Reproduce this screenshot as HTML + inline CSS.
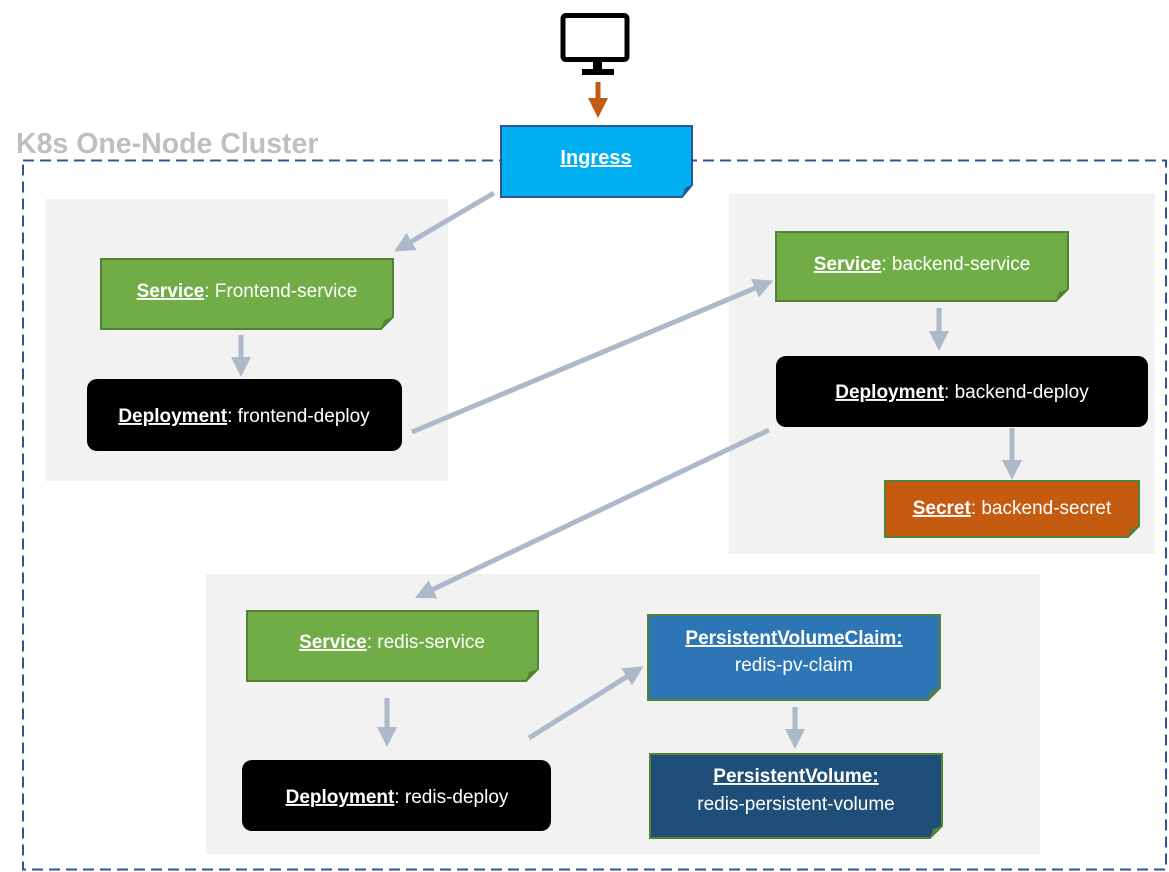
<!DOCTYPE html>
<html><head><meta charset="utf-8"><style>
html,body{margin:0;padding:0;background:#fff;}
svg{display:block;font-family:"Liberation Sans",sans-serif;}
</style></head><body>
<svg width="1169" height="872" viewBox="0 0 1169 872" xmlns="http://www.w3.org/2000/svg">
<defs>
<marker id="ah" markerWidth="4" markerHeight="4" refX="2.2" refY="2" orient="auto" markerUnits="strokeWidth">
<path d="M0,0 L4,2 L0,4 z" fill="#adb9ca"/></marker>
<marker id="ao" markerWidth="4" markerHeight="4" refX="2.2" refY="2" orient="auto" markerUnits="strokeWidth">
<path d="M0,0 L4,2 L0,4 z" fill="#c55a11"/></marker>
</defs>
<rect x="563" y="15.5" width="64" height="44" rx="3" fill="#fff" stroke="#000" stroke-width="5"/>
<rect x="593" y="62" width="9" height="7" fill="#000"/>
<rect x="582" y="69" width="32" height="6" fill="#000"/>
<line x1="598" y1="82" x2="598" y2="109" stroke="#c55a11" stroke-width="5" marker-end="url(#ao)"/>
<text x="16" y="153" font-size="28.5" font-weight="bold" fill="#bfbfbf">K8s One-Node Cluster</text>
<rect x="23" y="160.5" width="1143" height="709" fill="none" stroke="#2f5597" stroke-width="2" stroke-dasharray="11,6"/>
<rect x="45" y="199" width="403" height="282" fill="#f2f2f2"/>
<rect x="729" y="194" width="426" height="360" fill="#f2f2f2"/>
<rect x="206" y="574" width="834" height="280" fill="#f2f2f2"/>
<polygon points="501,126 692,126 692,185 682,197 501,197" fill="#00b0f0" stroke="#2f5597" stroke-width="2"/>
<polygon points="692,185 682,197 685,188" fill="#2f5597"/>
<text x="596" y="164" font-size="20" font-weight="bold" fill="#fff" text-anchor="middle" text-decoration="underline">Ingress</text>
<g stroke="#548235" stroke-width="2">
<polygon points="101,259 393,259 393,317 381,329 101,329" fill="#70ad47"/>
<polygon points="776,232 1068,232 1068,289 1056,301 776,301" fill="#70ad47"/>
<polygon points="247,611 538,611 538,669 526,681 247,681" fill="#70ad47"/>
<polygon points="885,481 1139,481 1139,526 1128,537 885,537" fill="#c55a11"/>
<polygon points="648,615 940,615 940,688 928,700 648,700" fill="#2e75b6"/>
<polygon points="650,754 942,754 942,826 930,838 650,838" fill="#1f4e79"/>
</g>
<g fill="#548235">
<polygon points="393,317 381,329 384,320"/>
<polygon points="1068,289 1056,301 1059,292"/>
<polygon points="538,669 526,681 529,672"/>
<polygon points="1139,526 1128,537 1131,528"/>
<polygon points="940,688 928,700 931,691"/>
<polygon points="942,826 930,838 933,829"/>
</g>
<rect x="87" y="379" width="315" height="72" rx="10" fill="#000"/>
<rect x="776" y="356" width="372" height="71" rx="10" fill="#000"/>
<rect x="242" y="760" width="309" height="71" rx="10" fill="#000"/>
<g font-size="19" fill="#fff" text-anchor="middle">
<text x="247" y="297"><tspan font-weight="bold" text-decoration="underline">Service</tspan>: Frontend-service</text>
<text x="922" y="270"><tspan font-weight="bold" text-decoration="underline">Service</tspan>: backend-service</text>
<text x="392" y="648"><tspan font-weight="bold" text-decoration="underline">Service</tspan>: redis-service</text>
<text x="1012" y="514"><tspan font-weight="bold" text-decoration="underline">Secret</tspan>: backend-secret</text>
<text x="244" y="422"><tspan font-weight="bold" text-decoration="underline">Deployment</tspan>: frontend-deploy</text>
<text x="962" y="398"><tspan font-weight="bold" text-decoration="underline">Deployment</tspan>: backend-deploy</text>
<text x="397" y="803"><tspan font-weight="bold" text-decoration="underline">Deployment</tspan>: redis-deploy</text>
<text x="794" y="644" font-weight="bold" text-decoration="underline">PersistentVolumeClaim:</text>
<text x="794" y="671">redis-pv-claim</text>
<text x="796" y="782" font-weight="bold" text-decoration="underline">PersistentVolume:</text>
<text x="796" y="810">redis-persistent-volume</text>
</g>
<g stroke="#adb9ca" stroke-width="5" fill="none">
<line x1="494" y1="193" x2="402" y2="247" marker-end="url(#ah)"/>
<line x1="241" y1="335" x2="241" y2="368" marker-end="url(#ah)"/>
<line x1="412" y1="432" x2="765" y2="284" marker-end="url(#ah)"/>
<line x1="939" y1="308" x2="939" y2="342" marker-end="url(#ah)"/>
<line x1="1012" y1="428" x2="1012" y2="471" marker-end="url(#ah)"/>
<line x1="769" y1="430" x2="423" y2="594" marker-end="url(#ah)"/>
<line x1="387" y1="698" x2="387" y2="738" marker-end="url(#ah)"/>
<line x1="529" y1="738" x2="636" y2="671" marker-end="url(#ah)"/>
<line x1="795" y1="707" x2="795" y2="740" marker-end="url(#ah)"/>
</g>
</svg>
</body></html>
